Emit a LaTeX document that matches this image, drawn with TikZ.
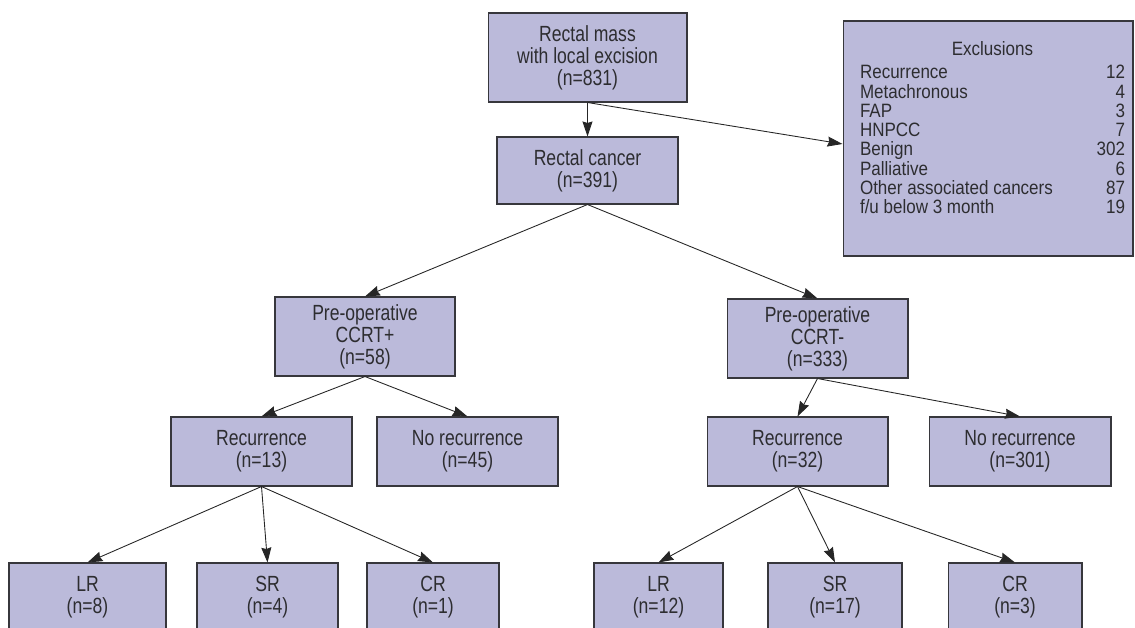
\documentclass[tikz,border=0pt]{standalone}
\usepackage{fontspec}
\setmainfont{Liberation Sans}[FakeStretch=0.8]
\newfontfamily\exclfont{Liberation Sans}[FakeStretch=0.88]
\usepackage{tikz}
\usetikzlibrary{arrows.meta}
\definecolor{boxfill}{RGB}{187,186,218}
\definecolor{boxline}{RGB}{55,55,60}
\definecolor{boxtext}{RGB}{45,45,48}
\tikzset{
  flowbox/.style={draw=boxline, fill=boxfill, line width=0.6pt, text=boxtext,
    align=center, inner sep=0pt, font=\fontsize{12.5}{12.6}\selectfont},
  flowarrow/.style={draw=black!85, line width=0.5pt,
    -{Stealth[length=0.3cm, width=0.2cm, inset=0.03cm]}}
}

\begin{document}
\begin{tikzpicture}[x=0.02cm, y=-0.02cm]
	%%%%% START %%%%%
	\useasboundingbox (0, 0) rectangle (1135, 628);
	\clip (0, 0) rectangle (1135, 628);
	
	% first level
	\node[flowbox, minimum width=3.98cm, minimum height=1.78cm] (mass) at (587.5, 57.5) {Rectal mass\\with local excision\\(n=831)};
	\node[flowbox, minimum width=3.62cm, minimum height=1.34cm] (cancer) at (587.5, 170.5) {Rectal cancer\\(n=391)};
	\node[flowbox, minimum width=5.8cm, minimum height=4.7cm] (excl) at (988, 138.5) {%
		\hspace*{0.18cm}\parbox{5.3cm}{\exclfont\fontsize{11}{11}\selectfont
			\centering Exclusions\par\vspace{0.07cm}\raggedright
			Recurrence\hfill 12\\
			Metachronous\hfill 4\\
			FAP\hfill 3\\
			HNPCC\hfill 7\\
			Benign\hfill 302\\
			Palliative\hfill 6\\
			Other associated cancers\hfill 87\\
			f/u below 3 month\hfill 19\par\vspace{0.42cm}}};
	
	% CCRT
	\node[flowbox, minimum width=3.6cm, minimum height=1.58cm] (ccrtp) at (365, 336.5) {Pre-operative\\CCRT+\\(n=58)};
	\node[flowbox, minimum width=3.62cm, minimum height=1.58cm] (ccrtm) at (817.5, 338.5) {Pre-operative\\CCRT-\\(n=333)};
	
	% recurrence
	\node[flowbox, minimum width=3.62cm, minimum height=1.38cm] (recp) at (261.5, 451.5) {Recurrence\\(n=13)};
	\node[flowbox, minimum width=3.62cm, minimum height=1.38cm] (norecp) at (467.5, 451.5) {No recurrence\\(n=45)};
	\node[flowbox, minimum width=3.62cm, minimum height=1.38cm] (recm) at (797.5, 451.5) {Recurrence\\(n=32)};
	\node[flowbox, minimum width=3.64cm, minimum height=1.38cm] (norecm) at (1020, 451.5) {No recurrence\\(n=301)};
	
	% type of recurrence
	\node[flowbox, minimum width=3.14cm, minimum height=1.38cm] (lrp) at (87.5, 597.5) {LR\\(n=8)};
	\node[flowbox, minimum width=2.82cm, minimum height=1.38cm] (srp) at (267.5, 597.5) {SR\\(n=4)};
	\node[flowbox, minimum width=2.64cm, minimum height=1.38cm] (crp) at (433, 597.5) {CR\\(n=1)};
	\node[flowbox, minimum width=2.58cm, minimum height=1.38cm] (lrm) at (658.5, 597.5) {LR\\(n=12)};
	\node[flowbox, minimum width=2.68cm, minimum height=1.38cm] (srm) at (835, 597.5) {SR\\(n=17)};
	\node[flowbox, minimum width=2.68cm, minimum height=1.38cm] (crm) at (1015, 597.5) {CR\\(n=3)};
	
	% arrows
	\draw[flowarrow] (mass.south) -- (cancer.north);
	\draw[flowarrow] (mass.south) -- ([yshift=-0.11cm]excl.west);
	\draw[flowarrow] (cancer.south) -- (ccrtp.north);
	\draw[flowarrow] (cancer.south) -- (ccrtm.north);
	
	\draw[flowarrow] (ccrtp.south) -- (recp.north);
	\draw[flowarrow] (ccrtp.south) -- (norecp.north);
	\draw[flowarrow] (ccrtm.south) -- (recm.north);
	\draw[flowarrow] (ccrtm.south) -- (norecm.north);
	
	\draw[flowarrow] (recp.south) -- (lrp.north);
	\draw[flowarrow] (recp.south) -- (srp.north);
	\draw[flowarrow] (recp.south) -- (crp.north);
	\draw[flowarrow] (recm.south) -- (lrm.north);
	\draw[flowarrow] (recm.south) -- (srm.north);
	\draw[flowarrow] (recm.south) -- (crm.north);
	%%%%% END %%%%%
\end{tikzpicture}
\end{document}
